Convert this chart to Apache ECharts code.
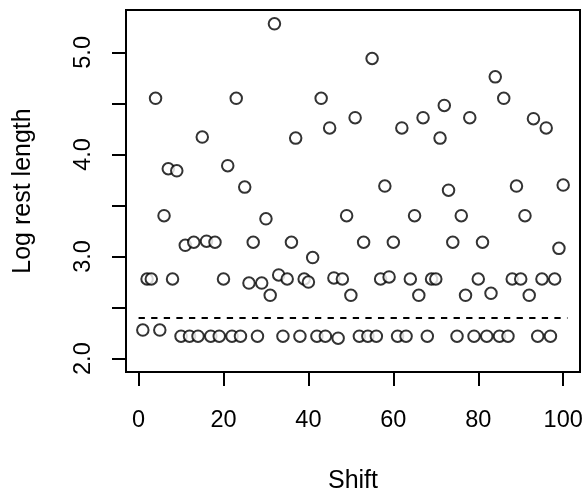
<!DOCTYPE html>
<html>
<head>
<meta charset="utf-8">
<script src="https://cdn.jsdelivr.net/npm/echarts@6/dist/echarts.min.js"></script>
<style>
    html, body { margin: 0; padding: 0; background: #fff; }
    #main { width: 587px; height: 499px; }
</style>
</head>
<body>
<div id="main"></div>
<script>
// shift index 1..100
var shifts = [];
for (var s = 1; s <= 100; s++) shifts.push(s);

// log rest length
var logRest = [
    2.28, 2.78, 2.78, 4.55, 2.28, 3.40, 3.86, 2.78, 3.84, 2.22,
    3.11, 2.22, 3.14, 2.22, 4.17, 3.15, 2.22, 3.14, 2.22, 2.78,
    3.89, 2.22, 4.55, 2.22, 3.68, 2.74, 3.14, 2.22, 2.74, 3.37,
    2.62, 5.28, 2.82, 2.22, 2.78, 3.14, 4.16, 2.22, 2.78, 2.75,
    2.99, 2.22, 4.55, 2.22, 4.26, 2.79, 2.20, 2.78, 3.40, 2.62,
    4.36, 2.22, 3.14, 2.22, 4.94, 2.22, 2.78, 3.69, 2.80, 3.14,
    2.22, 4.26, 2.22, 2.78, 3.40, 2.62, 4.36, 2.22, 2.78, 2.78,
    4.16, 4.48, 3.65, 3.14, 2.22, 3.40, 2.62, 4.36, 2.22, 2.78,
    3.14, 2.22, 2.64, 4.76, 2.22, 4.55, 2.22, 2.78, 3.69, 2.78,
    3.40, 2.62, 4.35, 2.22, 2.78, 4.26, 2.22, 2.78, 3.08, 3.70
];

// dashed reference level
var cutoff = 2.4;
var cutoffRange = [0, 101];

var xTicks = [0, 20, 40, 60, 80, 100];
var yTicks = [2, 2.5, 3, 3.5, 4, 4.5, 5];
var yLabels = [2, 3, 4, 5];

var pts = [];
for (var i = 0; i < shifts.length; i++) {
    pts.push([shifts[i], logRest[i]]);
}

var font = 'Liberation Sans, Arial, sans-serif';

var chart = echarts.init(document.getElementById('main'));

chart.setOption({
    animation: false,
    backgroundColor: '#fff',
    grid: {
        left: 126,
        top: 10,
        right: 7,
        bottom: 127,
        show: true,
        borderColor: '#000',
        borderWidth: 2
    },
    xAxis: {
        type: 'value',
        min: -2.96,
        max: 103.96,
        name: 'Shift',
        nameLocation: 'middle',
        nameGap: 97,
        nameTextStyle: { fontFamily: font, fontSize: 25, color: '#000' },
        axisLine: { show: false, onZero: false },
        splitLine: { show: false },
        axisTick: {
            show: true,
            length: 14,
            customValues: xTicks,
            lineStyle: { color: '#000', width: 2 }
        },
        axisLabel: {
            customValues: xTicks,
            margin: 37,
            fontFamily: font,
            fontSize: 23.5,
            color: '#000'
        }
    },
    yAxis: {
        type: 'value',
        min: 1.869,
        max: 5.415,
        name: 'Log rest length',
        nameLocation: 'middle',
        nameGap: 90,
        nameRotate: 90,
        nameTextStyle: { fontFamily: font, fontSize: 25, color: '#000' },
        axisLine: { show: false, onZero: false },
        splitLine: { show: false },
        axisTick: {
            show: true,
            length: 14,
            customValues: yTicks,
            lineStyle: { color: '#000', width: 2 }
        },
        axisLabel: {
            customValues: yLabels,
            rotate: 90,
            margin: 30,
            fontFamily: font,
            fontSize: 23.5,
            color: '#000',
            formatter: function (v) { return v.toFixed(1); }
        }
    },
    series: [{
        type: 'scatter',
        data: pts,
        symbol: 'emptyCircle',
        symbolSize: 11.5,
        itemStyle: {
            color: '#000',
            borderColor: '#000',
            borderWidth: 2
        },
        markLine: {
            silent: true,
            symbol: 'none',
            label: { show: false },
            lineStyle: { color: '#000', type: [6.3, 6.3], width: 2 },
            data: [[
                { coord: [cutoffRange[0], cutoff] },
                { coord: [cutoffRange[1], cutoff] }
            ]]
        }
    }]
});
</script>
</body>
</html>
